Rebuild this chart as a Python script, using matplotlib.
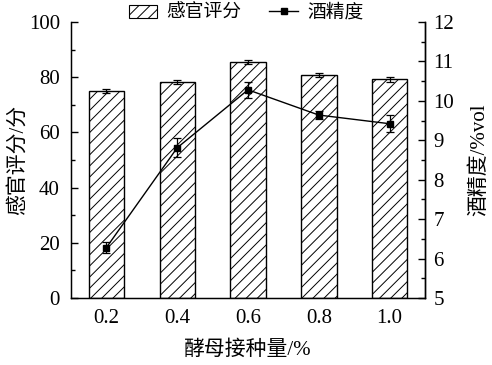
import matplotlib
matplotlib.use("Agg")
import matplotlib.pyplot as plt
import numpy as np
from matplotlib.patches import Patch
from matplotlib.lines import Line2D

categories = ["0.2", "0.4", "0.6", "0.8", "1.0"]
sensory = [75.0, 78.3, 85.5, 80.8, 79.3]
sensory_err = [0.9, 0.8, 0.7, 0.9, 0.9]
alcohol = [6.28, 8.81, 10.28, 9.64, 9.42]
alcohol_err = [0.15, 0.24, 0.21, 0.10, 0.22]

FAM = ["Liberation Serif", "Noto Sans CJK SC"]
plt.rcParams["font.family"] = FAM
plt.rcParams["hatch.linewidth"] = 0.7

fig = plt.figure(figsize=(4.92, 3.65), dpi=100)
ax = fig.add_axes([71/492, 67/365, (425-71)/492, (298-22)/365])
x = np.arange(len(categories))

ax.bar(x, sensory, width=0.5, color="white", edgecolor="black", hatch="///",
       linewidth=1.0, zorder=2)
ax.errorbar(x, sensory, yerr=sensory_err, fmt="none", ecolor="black",
            elinewidth=0.9, capsize=3, capthick=0.9, zorder=3)
ax.set_xlim(-0.5, 4.5)
ax.set_ylim(0, 100)
ax.set_yticks(np.arange(0, 101, 20))
ax.set_yticks(np.arange(10, 100, 20), minor=True)
ax.set_xticks(x)
ax.set_xticklabels(categories)
ax.tick_params(axis="both", which="major", direction="in", length=5, width=1,
               labelsize=15)
ax.tick_params(axis="x", which="major", length=3, pad=8)
ax.tick_params(axis="y", which="major", pad=8)
ax.tick_params(axis="y", which="minor", direction="in", length=3, width=1)
ax.spines["top"].set_visible(False)
for s in ["left", "bottom", "right"]:
    ax.spines[s].set_linewidth(1.0)
ax.set_ylabel("感官评分/分", fontsize=15, labelpad=1)
ax.set_xlabel("酵母接种量/%", fontsize=15, labelpad=9)

ax2 = ax.twinx()
ax2.errorbar(x, alcohol, yerr=alcohol_err, fmt="-s", color="black",
             markersize=5, linewidth=1.0, elinewidth=0.9, capsize=3,
             capthick=0.9, zorder=4)
ax2.set_ylim(5, 12)
ax2.set_yticks(np.arange(5, 13, 1))
ax2.set_yticks(np.arange(5.5, 12, 1), minor=True)
ax2.tick_params(axis="y", which="major", direction="in", length=5, width=1,
                labelsize=15, pad=6)
ax2.tick_params(axis="y", which="minor", direction="in", length=3, width=1)
ax2.spines["top"].set_visible(False)
ax2.spines["right"].set_linewidth(1.0)
ax2.set_ylabel("酒精度/%vol", fontsize=15, labelpad=11)

handles = [Patch(facecolor="white", edgecolor="black", hatch="///", linewidth=0.8),
           Line2D([0], [0], color="black", marker="s", markersize=4, linewidth=1.0)]
fig.legend(handles, ["感官评分", "酒精度"], loc="center", bbox_to_anchor=(0.5, 1 - 13/365),
           ncol=2, frameon=False, fontsize=13.5, handlelength=1.5, handletextpad=0.5,
           columnspacing=1.5, borderaxespad=0)

fig.savefig("out.png", dpi=100)
